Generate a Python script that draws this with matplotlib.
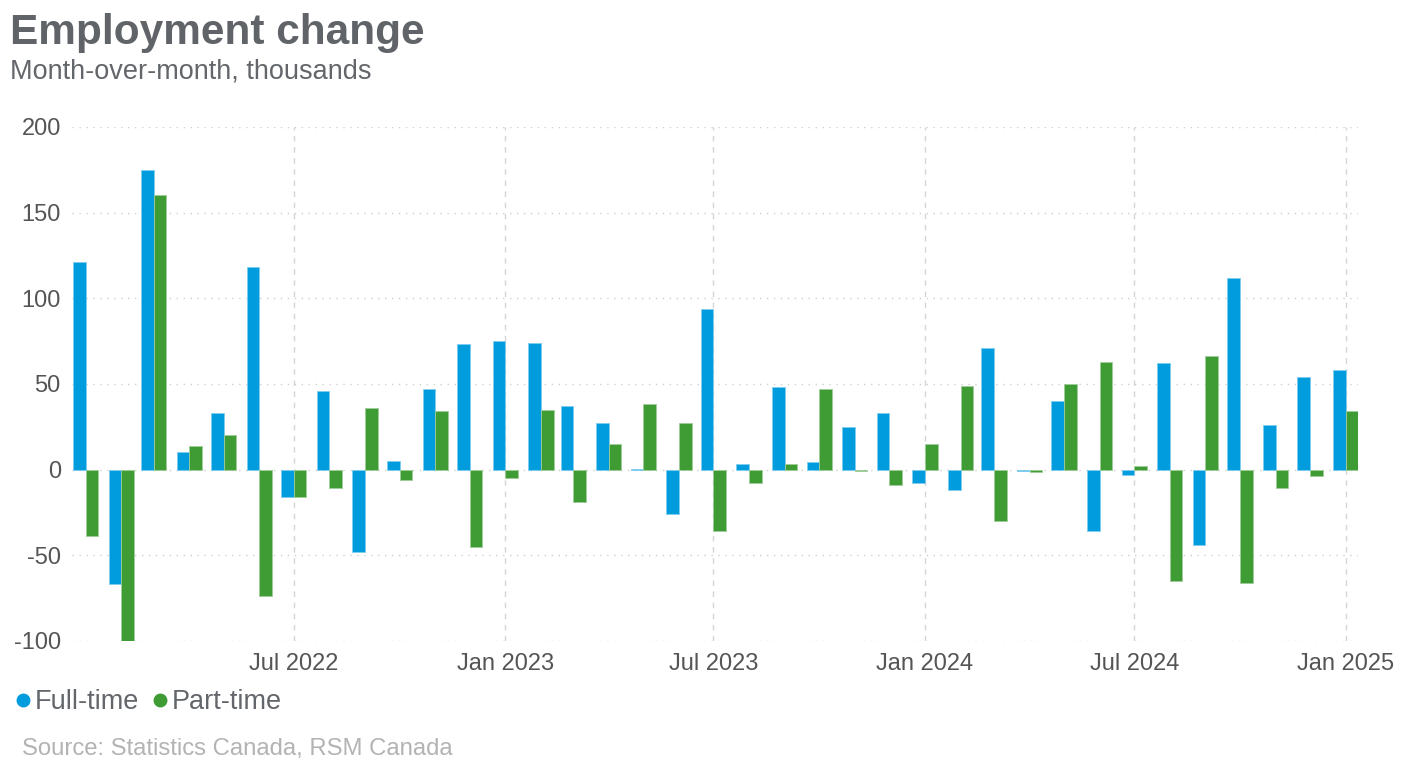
import datetime as dt
import matplotlib
matplotlib.use("Agg")
import matplotlib.pyplot as plt
import matplotlib.dates as mdates
from matplotlib.lines import Line2D

plt.rcParams['font.family'] = ['Liberation Sans', 'DejaVu Sans']
plt.rcParams['axes.unicode_minus'] = False

# monthly data, Jan 2022 - Jan 2025 (thousands)
months = [dt.date(2022 + (i // 12), i % 12 + 1, 1) for i in range(37)]
full_time = [121, -67, 175, 10, 33, 118, -16, 46, -48, 5, 47, 73,
             75, 74, 37, 27, 0.6, -26, 94, 3, 48, 4.5, 25, 33,
             -8, -12, 71, -0.6, 40, -36, -3, 62, -44, 112, 26, 54,
             58]
part_time = [-39, -100, 160, 14, 20, -74, -16, -11, 36, -6, 34, -45,
             -5, 35, -19, 15, 38, 27, -36, -8, 3, 47, -1, -9,
             15, 49, -30, -1.6, 50, 63, 2, -65, 66, -66, -11, -3.5,
             34]
tick_dates = [dt.date(2022, 7, 1), dt.date(2023, 1, 1), dt.date(2023, 7, 1),
              dt.date(2024, 1, 1), dt.date(2024, 7, 1), dt.date(2025, 1, 1)]
tick_labels = ['Jul 2022', 'Jan 2023', 'Jul 2023', 'Jan 2024', 'Jul 2024', 'Jan 2025']

blue = '#009CDE'
green = '#3F9C35'
gray = '#63666A'

fig = plt.figure(figsize=(14.16, 7.63), dpi=100)
ax = fig.add_axes([0.0508, 0.160, 0.9085, 0.6737])

x = mdates.date2num(months)
w = 11  # days
ax.bar(x, full_time, width=-w, align='edge', color=blue, edgecolor='#7fcdee', linewidth=0.6, zorder=3)
ax.bar(x, part_time, width=w, align='edge', color=green, edgecolor='#9fcd9a', linewidth=0.6, zorder=3)

ax.set_ylim(-100, 200)
ax.set_yticks([-100, -50, 0, 50, 100, 150, 200])
ax.set_xlim(mdates.date2num(dt.date(2021, 12, 20)), mdates.date2num(dt.date(2025, 1, 12)))
ax.set_xticks(mdates.date2num(tick_dates))
ax.set_xticklabels(tick_labels)

ax.tick_params(axis='both', length=0, labelsize=17, labelcolor='#555555')
ax.tick_params(axis='x', pad=9)
ax.tick_params(axis='y', pad=8)
for s in ax.spines.values():
    s.set_visible(False)

ax.grid(axis='y', linestyle=(0, (1, 4)), color='#cfcfcf', linewidth=1, zorder=0)
ax.grid(axis='x', linestyle=(0, (4, 4)), color='#d5d5d5', linewidth=1, zorder=0)

fig.text(0.007, 1 - 44 / 763, 'Employment change', fontsize=30.5, fontweight='bold',
         color='#606368', va='baseline', ha='left')
fig.text(0.007, 1 - 78 / 763, 'Month-over-month, thousands', fontsize=19.5,
         color=gray, va='baseline', ha='left')

handles = [Line2D([], [], marker='o', linestyle='none', color=blue, markersize=9),
           Line2D([], [], marker='o', linestyle='none', color=green, markersize=9)]
fig.legend(handles, ['Full-time', 'Part-time'], loc='center left',
           bbox_to_anchor=(0.0105, 1 - 702 / 763), ncol=2, frameon=False,
           fontsize=19.5, handlelength=0.6, handletextpad=0.15, columnspacing=0.45,
           labelcolor=gray, borderaxespad=0, borderpad=0)

fig.text(0.0155, 1 - 755 / 763, 'Source: Statistics Canada, RSM Canada', fontsize=17.2,
         color='#b3b3b3', va='baseline', ha='left')

fig.savefig('out.png', dpi=100)
